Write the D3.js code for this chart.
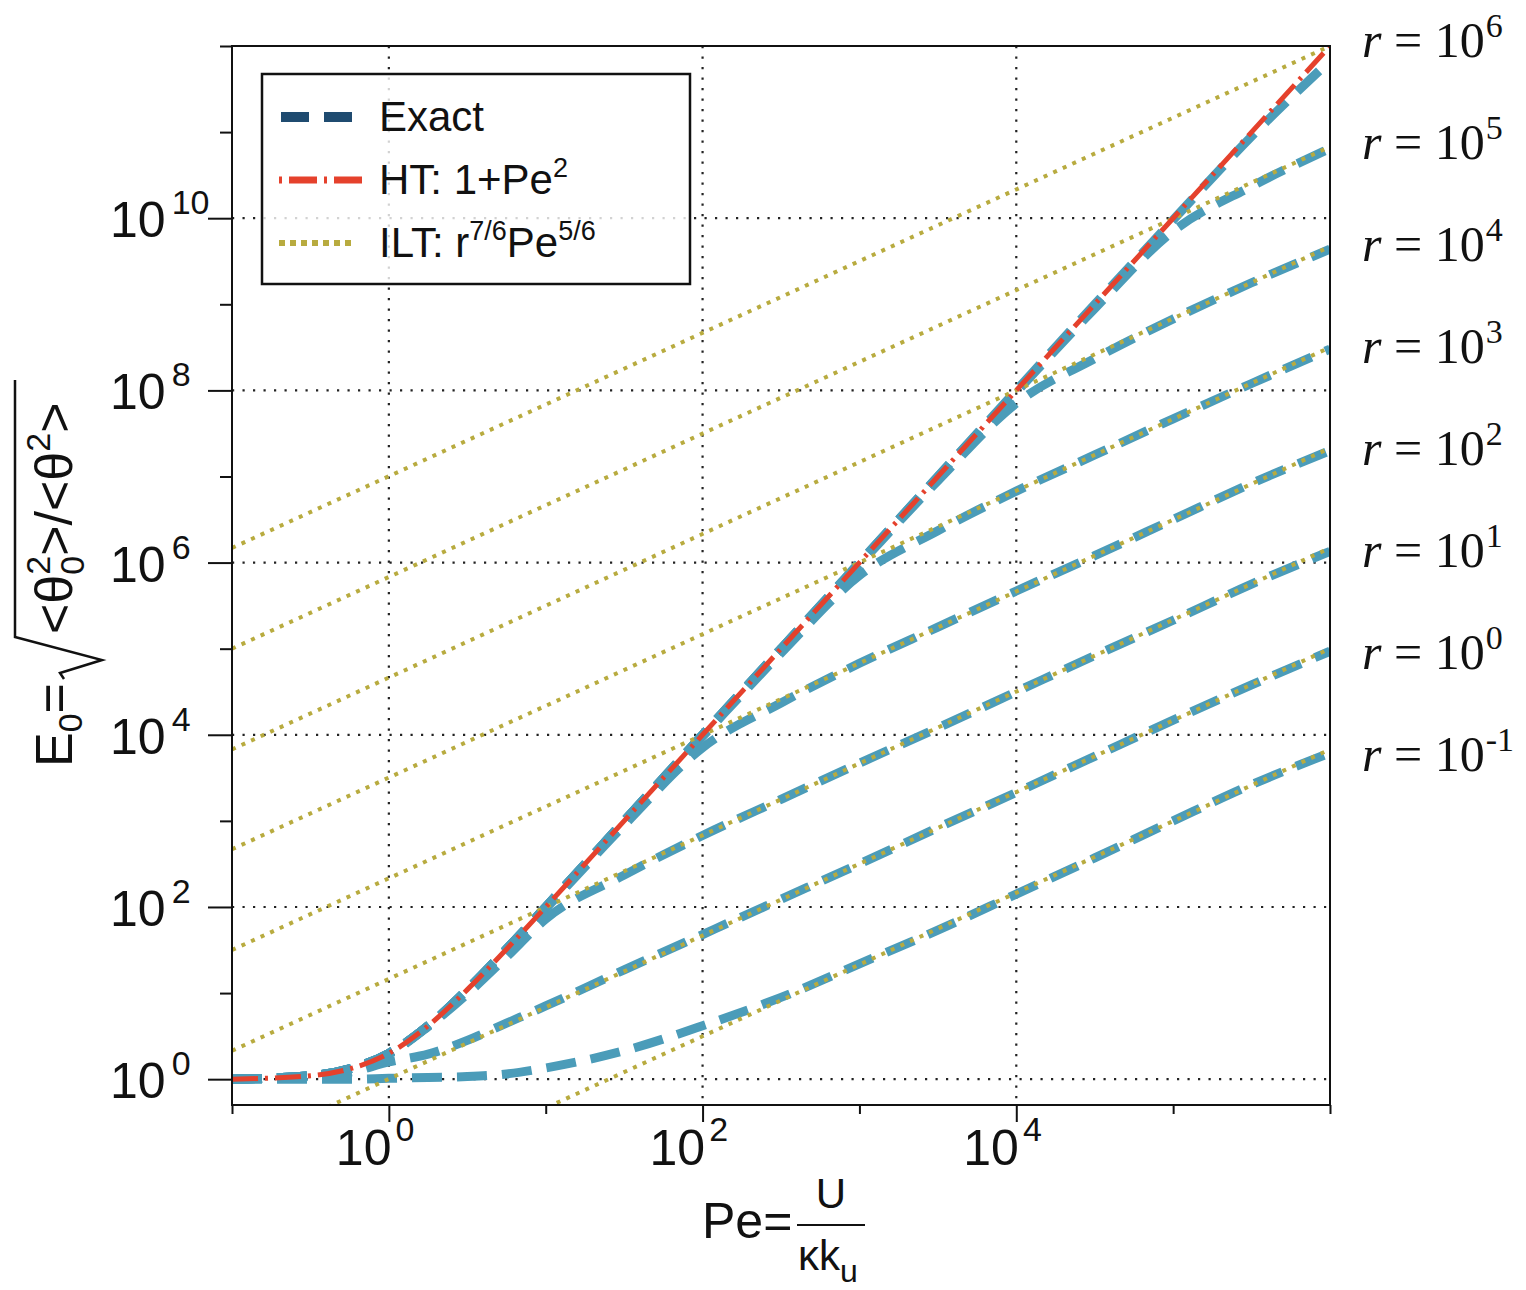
<!DOCTYPE html>
<html lang="en">
<head>
<meta charset="UTF-8" />
<title>E0 vs Pe</title>
<script src="https://cdn.jsdelivr.net/npm/d3@7"></script>
<style>
  body { margin: 0; background: #fff; }
  text { font-family: "Liberation Sans", Arial, sans-serif; fill: #111; }
  text.serif { font-family: "Liberation Serif", "Times New Roman", serif; }
</style>
</head>
<body>
<script>
// sample positions, log10(Pe)
const peLog = [-1, -0.5, -0.25, 0, 0.25, 0.5, 0.75, 1, 1.5, 2, 2.5, 3, 3.5, 4, 4.5, 5, 5.5, 6];

// HT: 1+Pe^2, log10 values
const htLog = [0.00, 0.04, 0.12, 0.30, 0.62, 1.04, 1.51, 2.00, 3.00, 4.00, 5.00, 6.00, 7.00, 8.00, 9.00, 10.00, 11.00, 12.00];

// Exact curves, log10(E0), one per r
const exactR6  = [0.00, 0.04, 0.12, 0.30, 0.62, 1.04, 1.51, 2.00, 3.00, 4.00, 5.00, 6.00, 7.00, 8.00, 9.00, 9.98, 10.95, 11.83];
const exactR5  = [0.00, 0.04, 0.12, 0.30, 0.62, 1.04, 1.51, 2.00, 3.00, 4.00, 5.00, 6.00, 7.00, 7.98, 8.95, 9.85, 10.37, 10.81];
const exactR4  = [0.00, 0.04, 0.12, 0.30, 0.62, 1.04, 1.51, 2.00, 3.00, 4.00, 5.00, 5.98, 6.95, 7.85, 8.37, 8.83, 9.25, 9.64];
const exactR3  = [0.00, 0.04, 0.12, 0.30, 0.62, 1.04, 1.51, 2.00, 3.00, 3.98, 4.95, 5.85, 6.37, 6.83, 7.25, 7.67, 8.08, 8.48];
const exactR2  = [0.00, 0.04, 0.12, 0.30, 0.62, 1.04, 1.51, 1.98, 2.95, 3.85, 4.37, 4.83, 5.25, 5.67, 6.08, 6.50, 6.92, 7.30];
const exactR1  = [0.00, 0.04, 0.12, 0.29, 0.61, 0.99, 1.42, 1.86, 2.37, 2.83, 3.25, 3.67, 4.08, 4.50, 4.92, 5.33, 5.75, 6.13];
const exactR0  = [0.00, 0.03, 0.08, 0.20, 0.29, 0.45, 0.65, 0.85, 1.27, 1.68, 2.09, 2.50, 2.92, 3.33, 3.75, 4.17, 4.58, 4.97];
const exactRm1 = [0.00, 0.00, 0.00, 0.01, 0.02, 0.03, 0.06, 0.13, 0.33, 0.62, 0.95, 1.34, 1.73, 2.15, 2.57, 3.00, 3.42, 3.79];

// ILT straight lines: log10 value at Pe=0.1 and at Pe=1e6
const iltPeLog = [-1, 6];
const iltStart = [6.17, 5.00, 3.83, 2.67, 1.50, 0.33, -0.83, -2.00];
const iltEnd   = [12.00, 10.83, 9.67, 8.50, 7.33, 6.17, 5.00, 3.83];

// r labels on the right
const rExp = ["6", "5", "4", "3", "2", "1", "0", "-1"];

// ticks
const xTickExp = [-1, 0, 1, 2, 3, 4, 5, 6];
const xLabelExp = [0, 2, 4];
const yTickExp = [0, 1, 2, 3, 4, 5, 6, 7, 8, 9, 10, 11, 12];
const yLabelExp = [0, 2, 4, 6, 8, 10];

const exactAll = [exactR6, exactR5, exactR4, exactR3, exactR2, exactR1, exactR0, exactRm1];

const W = 1526, H = 1290;
const pLeft = 232, pRight = 1330, pTop = 46, pBottom = 1105;

const svg = d3.select("body").append("svg")
  .attr("width", W).attr("height", H);

const x = d3.scaleLog().domain([0.1, 1e6]).range([pLeft, pRight]);
const y = d3.scaleLog().domain([Math.pow(10, -0.3), 1e12]).range([pBottom, pTop]);

svg.append("defs").append("clipPath").attr("id", "plot")
  .append("rect").attr("x", pLeft).attr("y", pTop)
  .attr("width", pRight - pLeft).attr("height", pBottom - pTop);

// grid
const grid = svg.append("g").attr("stroke", "#222").attr("stroke-width", 2.2)
  .attr("stroke-dasharray", "2.2,8.3");
yLabelExp.forEach(e => {
  grid.append("line").attr("x1", pLeft).attr("x2", pRight)
    .attr("y1", y(Math.pow(10, e))).attr("y2", y(Math.pow(10, e)));
});
xLabelExp.forEach(e => {
  grid.append("line").attr("y1", pTop).attr("y2", pBottom)
    .attr("x1", x(Math.pow(10, e))).attr("x2", x(Math.pow(10, e)));
});

const plot = svg.append("g").attr("clip-path", "url(#plot)");

const line = d3.line()
  .x(d => x(Math.pow(10, d[0])))
  .y(d => y(Math.pow(10, d[1])))
  .curve(d3.curveMonotoneX);

// exact curves
exactAll.forEach(vals => {
  plot.append("path")
    .datum(peLog.map((p, i) => [p, vals[i]]))
    .attr("d", line)
    .attr("fill", "none")
    .attr("stroke", "#4b9cb9")
    .attr("stroke-width", 9)
    .attr("stroke-dasharray", "30,15");
});

// ILT lines
iltStart.forEach((s, i) => {
  plot.append("path")
    .datum([[iltPeLog[0], s], [iltPeLog[1], iltEnd[i]]])
    .attr("d", d3.line().x(d => x(Math.pow(10, d[0]))).y(d => y(Math.pow(10, d[1]))))
    .attr("fill", "none")
    .attr("stroke", "#b8ab3f")
    .attr("stroke-width", 4)
    .attr("stroke-dasharray", "4,6.5");
});

// HT line
plot.append("path")
  .datum(peLog.map((p, i) => [p, htLog[i]]))
  .attr("d", line)
  .attr("fill", "none")
  .attr("stroke", "#e5412c")
  .attr("stroke-width", 5)
  .attr("stroke-dasharray", "26,7,3,7");

// axes ticks
const xAxisMajor = d3.axisBottom(x).tickValues(xLabelExp.map(e => Math.pow(10, e)))
  .tickFormat("").tickSize(17).tickSizeOuter(0);
const xAxisMinor = d3.axisBottom(x).tickValues(xTickExp.filter(e => !xLabelExp.includes(e)).map(e => Math.pow(10, e)))
  .tickFormat("").tickSize(9).tickSizeOuter(0);
const yAxisMajor = d3.axisLeft(y).tickValues(yLabelExp.map(e => Math.pow(10, e)))
  .tickFormat("").tickSize(24).tickSizeOuter(0);
const yAxisMinor = d3.axisLeft(y).tickValues(yTickExp.filter(e => !yLabelExp.includes(e)).map(e => Math.pow(10, e)))
  .tickFormat("").tickSize(12).tickSizeOuter(0);

[xAxisMajor, xAxisMinor].forEach(a => {
  svg.append("g").attr("transform", `translate(0,${pBottom})`).call(a)
    .call(g => g.select(".domain").remove())
    .selectAll("line").attr("stroke", "#111").attr("stroke-width", 2);
});
[yAxisMajor, yAxisMinor].forEach(a => {
  svg.append("g").attr("transform", `translate(${pLeft},0)`).call(a)
    .call(g => g.select(".domain").remove())
    .selectAll("line").attr("stroke", "#111").attr("stroke-width", 2);
});

// frame
svg.append("rect").attr("x", pLeft).attr("y", pTop)
  .attr("width", pRight - pLeft).attr("height", pBottom - pTop)
  .attr("fill", "none").attr("stroke", "#111").attr("stroke-width", 2);

// tick labels
yLabelExp.forEach(e => {
  const t = svg.append("text").attr("x", 110).attr("y", y(Math.pow(10, e)) + 19)
    .attr("font-size", 50);
  t.append("tspan").text("10");
  t.append("tspan").attr("font-size", 34).attr("dx", 6).attr("dy", -23).text(e);
});
xLabelExp.forEach(e => {
  const t = svg.append("text").attr("x", x(Math.pow(10, e)) - 53).attr("y", 1165)
    .attr("font-size", 50);
  t.append("tspan").text("10");
  t.append("tspan").attr("font-size", 34).attr("dx", 4).attr("dy", -24).text(e);
});

// x axis label
svg.append("text").attr("x", 702).attr("y", 1238).attr("font-size", 50).text("Pe=");
svg.append("line").attr("x1", 797).attr("x2", 865).attr("y1", 1225).attr("y2", 1225)
  .attr("stroke", "#111").attr("stroke-width", 2);
svg.append("text").attr("x", 831).attr("y", 1208).attr("font-size", 42)
  .attr("text-anchor", "middle").text("U");
const den = svg.append("text").attr("x", 798).attr("y", 1270).attr("font-size", 42);
den.append("tspan").text("κk");
den.append("tspan").attr("font-size", 32).attr("dy", 12).text("u");

// y axis label
const yl = svg.append("g").attr("transform", "translate(72,767) rotate(-90)");
const t1 = yl.append("text").attr("font-size", 52);
t1.append("tspan").text("E");
t1.append("tspan").attr("font-size", 34).attr("dy", 10).text("0");
t1.append("tspan").attr("dy", -10).text("=");
yl.append("path").attr("d", "M88,-8 L94,-12 L107,30 L130,-57 L387,-57")
  .attr("fill", "none").attr("stroke", "#111").attr("stroke-width", 2.5);
const t2 = yl.append("text").attr("x", 133).attr("font-size", 52);
t2.append("tspan").text("<θ");
t2.append("tspan").attr("font-size", 34).attr("dy", -22).text("2");
t2.append("tspan").attr("font-size", 34).attr("dx", -19).attr("dy", 34).text("0");
t2.append("tspan").attr("dy", -12).text(">/<θ");
t2.append("tspan").attr("font-size", 34).attr("dy", -22).text("2");
t2.append("tspan").attr("dy", 22).text(">");

// legend
const lg = svg.append("g");
lg.append("rect").attr("x", 262).attr("y", 74).attr("width", 428).attr("height", 210)
  .attr("fill", "#fff").attr("fill-opacity", 0.8)
  .attr("stroke", "#111").attr("stroke-width", 2.5);
lg.append("line").attr("x1", 281).attr("x2", 352).attr("y1", 117).attr("y2", 117)
  .attr("stroke", "#1f4b70").attr("stroke-width", 10).attr("stroke-dasharray", "28,15");
lg.append("line").attr("x1", 279).attr("x2", 362).attr("y1", 180).attr("y2", 180)
  .attr("stroke", "#e5412c").attr("stroke-width", 7).attr("stroke-dasharray", "3,7,28,7");
lg.append("line").attr("x1", 279).attr("x2", 352).attr("y1", 243).attr("y2", 243)
  .attr("stroke", "#b8ab3f").attr("stroke-width", 6).attr("stroke-dasharray", "6,5");
lg.append("text").attr("x", 379).attr("y", 131).attr("font-size", 42).text("Exact");
const l2 = lg.append("text").attr("x", 379).attr("y", 194).attr("font-size", 42);
l2.append("tspan").text("HT: 1+Pe");
l2.append("tspan").attr("font-size", 27).attr("dy", -17).text("2");
const l3 = lg.append("text").attr("x", 379).attr("y", 257).attr("font-size", 42);
l3.append("tspan").text("ILT: r");
l3.append("tspan").attr("font-size", 27).attr("dy", -17).text("7/6");
l3.append("tspan").attr("dy", 17).text("Pe");
l3.append("tspan").attr("font-size", 27).attr("dy", -17).text("5/6");

// r labels
rExp.forEach((e, i) => {
  const t = svg.append("text").attr("class", "serif")
    .attr("x", 1362).attr("y", 57 + i * 102).attr("font-size", 50);
  t.append("tspan").attr("font-style", "italic").text("r");
  t.append("tspan").text(" = 10");
  t.append("tspan").attr("font-size", 34).attr("dx", 1).attr("dy", -20).text(e);
});
</script>
</body>
</html>
